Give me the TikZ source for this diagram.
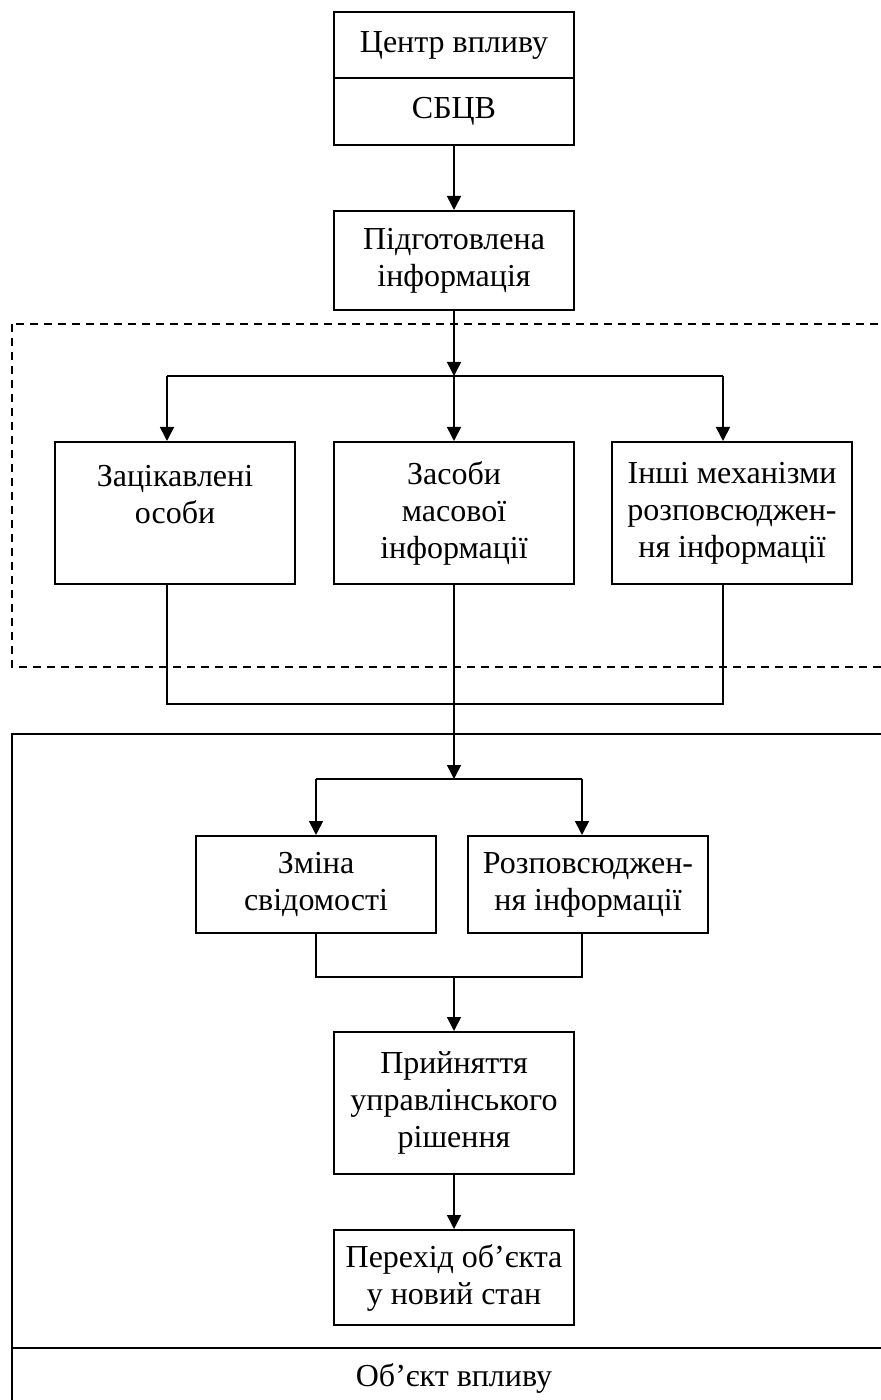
\documentclass[tikz,border=0pt]{standalone}
\usepackage{fontspec}
\setmainfont{Liberation Serif}
\usetikzlibrary{arrows.meta,calc}

\begin{document}
\begin{tikzpicture}[x=0.5pt,y=-0.5pt,
            font=\fontsize{16}{18.5}\selectfont,
            blok/.style={draw,line width=1pt,align=center,minimum width=120pt,inner sep=0pt},
            lin/.style={line width=0.8pt},
            arr/.style={line width=0.8pt,-{Triangle[length=7pt,width=7pt]}}]
            \useasboundingbox (0,0) rectangle (880,1400);
            \draw[line width=0.8pt,dash pattern=on 4pt off 3pt] (12,324) rectangle (900,667);
            \draw[line width=1.2pt] (12,1420) -- (12,734) -- (900,734);
            \draw[line width=1.2pt] (12,1348) -- (900,1348);
            \node[blok,minimum height=33pt] (centr) at (454,45) {Центр впливу};
            \node[blok,minimum height=33.5pt] (sbcv) at (454,111.5) {СБЦВ};
            \node[blok,minimum height=49.5pt] (info) at (454,260.5) {Підготовлена\\інформація};
            \node[blok,minimum height=71pt] (persons) at (175,513) {Зацікавлені\\особи\\ };
            \node[blok,minimum height=71pt] (media) at (454,513) {Засоби\\масової\\інформації};
            \node[blok,minimum height=71pt] (other) at (732,513) {Інші механізми\\розповсюджен-\\ня інформації};
            \node[blok,minimum height=48.5pt] (change) at (316,884.5) {Зміна\\свідомості};
            \node[blok,minimum height=48.5pt] (spread) at (588,884.5) {Розповсюджен-\\ня інформації};
            \node[blok,minimum height=71pt] (decision) at (454,1103) {Прийняття\\управлінського\\рішення};
            \node[blok,minimum height=47.5pt] (transit) at (454,1277.5) {Перехід об’єкта\\у новий стан};
            \node (object) at (454,1378) {Об’єкт впливу};
            \coordinate (fork) at (454,376);
            \coordinate (forkL) at (167,376);
            \coordinate (forkR) at (723,376);
            \coordinate (joinL) at (167,704);
            \coordinate (joinR) at (723,704);
            \coordinate (split) at (454,779);
            \coordinate (splitL) at (316,779);
            \coordinate (splitR) at (582,779);
            \coordinate (mergeL) at (316,977);
            \coordinate (mergeR) at (582,977);
            \coordinate (merge) at (454,977);
            \draw[arr] (sbcv) -- (info);
            \draw[arr] (info) -- (fork);
            \draw[lin] (forkL) -- (forkR);
            \draw[arr] (forkL) -- (forkL |- persons.north);
            \draw[arr] (fork) -- (media);
            \draw[arr] (forkR) -- (forkR |- other.north);
            \draw[lin] (forkL |- persons.south) -- (joinL) -- (joinR) -- (forkR |- other.south);
            \draw[arr] (media) -- (split);
            \draw[lin] (splitL) -- (splitR);
            \draw[arr] (splitL) -- (change);
            \draw[arr] (splitR) -- (splitR |- spread.north);
            \draw[lin] (change) -- (mergeL) -- (mergeR) -- (splitR |- spread.south);
            \draw[arr] (merge) -- (decision);
            \draw[arr] (decision) -- (transit);
        \end{tikzpicture}
\end{document}
